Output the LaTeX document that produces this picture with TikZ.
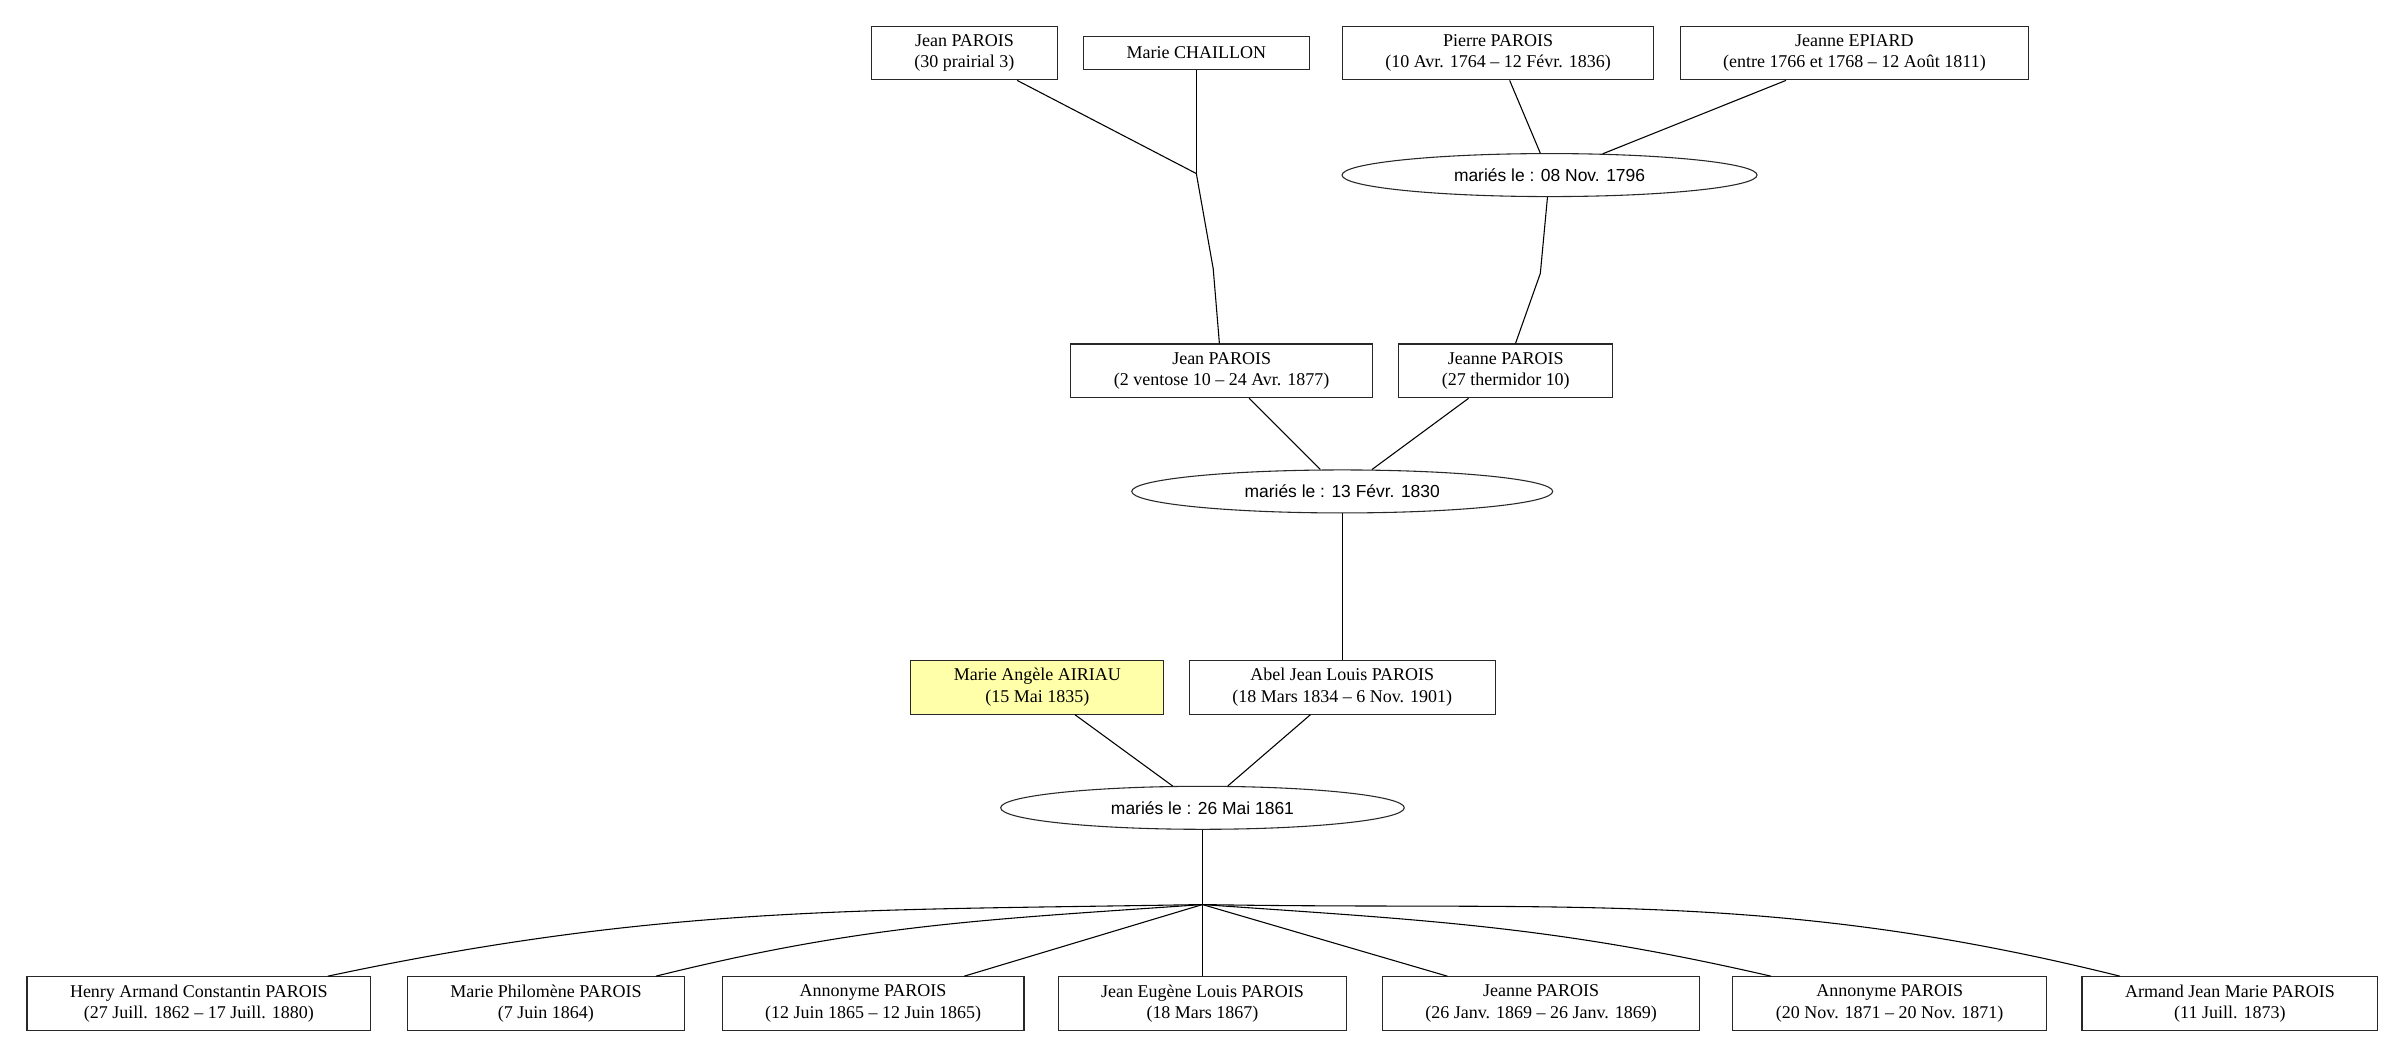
\documentclass[tikz,border=0pt]{standalone}
\usepackage{fontspec}
\setmainfont{Liberation Serif}
\newfontfamily\unionfont{Liberation Sans}
\usepackage{tikz}
\usetikzlibrary{shapes.geometric}
\definecolor{spouseyellow}{RGB}{255,255,170}
\definecolor{boxgray}{RGB}{40,40,40}

\begin{document}
\begin{tikzpicture}[x=0.03cm,y=-0.03cm,
  person/.style={draw=boxgray,line width=0.6pt,align=center,inner xsep=0.84cm,inner ysep=0pt,minimum height=1.05cm,font=\fontsize{10}{11.9}\selectfont},
  single/.style={person,minimum height=0.63cm},
  spouse/.style={person,fill=spouseyellow},
  union/.style={draw=boxgray,line width=0.6pt,ellipse,inner xsep=1cm,inner ysep=0pt,minimum height=0.84cm,font=\unionfont\fontsize{9.7}{11}\selectfont},
  link/.style={line width=0.6pt}]
\useasboundingbox (0,0) rectangle (1568,689);
\node[person] (jean1) at (628,34.5) {Jean PAROIS\\(30 prairial 3)};
\node[single] (chaillon) at (779,34.5) {Marie CHAILLON};
\node[person] (pierre) at (975.5,34.5) {Pierre PAROIS\\(10 Avr. 1764 – 12 Févr. 1836)};
\node[person] (epiard) at (1207.5,34.5) {Jeanne EPIARD\\(entre 1766 et 1768 – 12 Août 1811)};
\node[union] (m1796) at (1009,114) {mariés le : 08 Nov. 1796};
\coordinate (jc) at (779,113);
\coordinate (jb) at (790,175);
\coordinate (eb) at (1003,178);
\node[person] (jean2) at (795.5,241.5) {Jean PAROIS\\(2 ventose 10 – 24 Avr. 1877)};
\node[person] (jeanne2) at (980.5,241.5) {Jeanne PAROIS\\(27 thermidor 10)};
\node[union] (m1830) at (874,320) {mariés le : 13 Févr. 1830};
\node[spouse] (airiau) at (675.5,447.5) {Marie Angèle AIRIAU\\(15 Mai 1835)};
\node[person] (abel) at (874,447.5) {Abel Jean Louis PAROIS\\(18 Mars 1834 – 6 Nov. 1901)};
\node[union] (m1861) at (783,526) {mariés le : 26 Mai 1861};
\coordinate (kj) at (783,589);
\node[person] (henry) at (129.5,653.5) {Henry Armand Constantin PAROIS\\(27 Juill. 1862 – 17 Juill. 1880)};
\node[person] (philomene) at (355.5,653.5) {Marie Philomène PAROIS\\(7 Juin 1864)};
\node[person] (anon1) at (568.5,653.5) {Annonyme PAROIS\\(12 Juin 1865 – 12 Juin 1865)};
\node[person] (eugene) at (783,653.5) {Jean Eugène Louis PAROIS\\(18 Mars 1867)};
\node[person] (jeanne3) at (1003.5,653.5) {Jeanne PAROIS\\(26 Janv. 1869 – 26 Janv. 1869)};
\node[person] (anon2) at (1230.5,653.5) {Annonyme PAROIS\\(20 Nov. 1871 – 20 Nov. 1871)};
\node[person] (armand) at (1452,653.5) {Armand Jean Marie PAROIS\\(11 Juill. 1873)};

\draw[link] (jean1) -- (jc);
\draw[link] (chaillon) -- (jc);
\draw[link] (jc) -- (jb) -- (jean2);
\draw[link] (pierre) -- (m1796);
\draw[link] (epiard) -- (m1796);
\draw[link] (m1796) -- (eb) -- (jeanne2);
\draw[link] (jean2) -- (m1830);
\draw[link] (jeanne2) -- (m1830);
\draw[link] (m1830) -- (abel);
\draw[link] (airiau) -- (m1861);
\draw[link] (abel) -- (m1861);
\draw[link] (m1861) -- (kj);
\draw[link] (kj) to[out=181,in=12] (henry);
\draw[link] (kj) to[out=184,in=14] (philomene);
\draw[link] (kj) -- (anon1);
\draw[link] (kj) -- (eugene);
\draw[link] (kj) -- (jeanne3);
\draw[link] (kj) to[out=-4,in=167] (anon2);
\draw[link] (kj) to[out=-1,in=166] (armand);
\end{tikzpicture}
\end{document}
